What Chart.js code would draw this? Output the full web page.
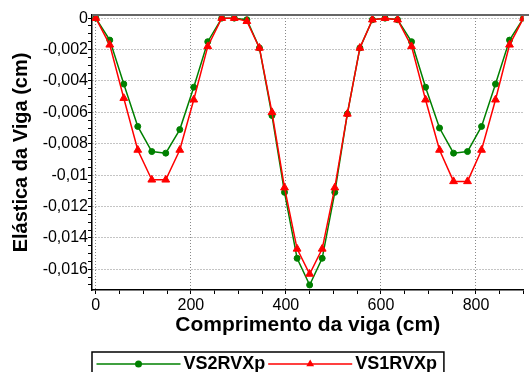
<!DOCTYPE html>
<html>
<head>
<meta charset="utf-8">
<script src="https://cdn.jsdelivr.net/npm/chart.js@4/dist/chart.umd.min.js"></script>
<style>
  body { margin: 0; background: #fff; }
  #wrap { width: 529px; height: 372px; }
</style>
</head>
<body>
<div id="wrap"><canvas id="chart" width="529" height="372"></canvas></div>
<script>
// posição dos nós ao longo da viga (cm)
const posicoes = [0, 29.4, 58.9, 88.3, 117.8, 147.2, 176.7, 206.1, 235.6, 265,
  291.4, 317.9, 344.3, 370.7, 397.1, 423.6, 450, 476.4, 502.9, 529.3, 555.7,
  582.1, 608.6, 635, 664.4, 693.9, 723.3, 752.8, 782.2, 811.7, 841.1, 870.6, 900];

// elástica (cm)
const vs2rvxp = [0, -0.0014, -0.0042, -0.0069, -0.0085, -0.0086, -0.0071, -0.0044, -0.0015, 0,
  0, -0.0001, -0.0019, -0.0062, -0.0111, -0.0153, -0.0170, -0.0153, -0.0111, -0.0061,
  -0.0019, -0.0001, 0, -0.0001, -0.0015, -0.0044, -0.0070, -0.0086, -0.0085, -0.0069,
  -0.0042, -0.0014, 0];
const vs1rvxp = [0, -0.0017, -0.0051, -0.0084, -0.0103, -0.0103, -0.0084, -0.0052, -0.0018, 0,
  0, -0.0002, -0.0019, -0.0060, -0.0108, -0.0147, -0.0163, -0.0147, -0.0108, -0.0061,
  -0.0019, -0.0001, 0, -0.0001, -0.0018, -0.0052, -0.0084, -0.0104, -0.0104, -0.0084,
  -0.0052, -0.0017, 0];

const nomesSeries = ['VS2RVXp', 'VS1RVXp'];
const tituloX = 'Comprimento da viga (cm)';
const tituloY = 'Elástica da Viga (cm)';

const VERDE = '#008000';
const VERMELHO = '#ff0000';

Chart.defaults.font.family = "'Liberation Sans', Arial, sans-serif";
Chart.defaults.color = '#000';

function pontos(ys) {
  return ys.map((y, i) => ({ x: posicoes[i], y: y }));
}

// moldura superior + legenda desenhada à mão (linha com marcador no meio)
const molduraLegenda = {
  id: 'molduraLegenda',
  afterDraw(chart) {
    const { ctx, chartArea } = chart;
    ctx.save();
    ctx.strokeStyle = '#666';
    ctx.lineWidth = 2;
    ctx.beginPath();
    ctx.moveTo(chartArea.left, chartArea.top);
    ctx.lineTo(chart.width, chartArea.top);
    ctx.stroke();

    ctx.font = "bold 18px 'Liberation Sans', Arial, sans-serif";
    ctx.textBaseline = 'middle';
    const topo = chart.height - 20;
    const yLinha = topo + 12;
    let x = chartArea.left + 4.5;
    const inicio = chartArea.left;
    chart.data.datasets.forEach(ds => {
      const cor = ds.borderColor;
      ctx.strokeStyle = cor;
      ctx.lineWidth = 1.5;
      ctx.beginPath();
      ctx.moveTo(x, yLinha);
      ctx.lineTo(x + 84, yLinha);
      ctx.stroke();
      const cx = x + 42;
      ctx.fillStyle = cor;
      ctx.beginPath();
      if (ds.pointStyle === 'triangle') {
        const r = 4.5;
        ctx.moveTo(cx, yLinha - r);
        ctx.lineTo(cx + r * 0.866, yLinha + r * 0.5);
        ctx.lineTo(cx - r * 0.866, yLinha + r * 0.5);
        ctx.closePath();
      } else {
        ctx.arc(cx, yLinha, 3.5, 0, Math.PI * 2);
      }
      ctx.fill();
      x += 87;
      ctx.fillStyle = '#000';
      ctx.textAlign = 'left';
      ctx.fillText(ds.label, x, yLinha);
      x += ctx.measureText(ds.label).width + 3;
    });
    ctx.strokeStyle = '#000';
    ctx.lineWidth = 1.5;
    ctx.strokeRect(inicio, topo, x + 4 - inicio, 40);
    ctx.restore();
  }
};

const ehMaiorY = v => Math.round(v / 0.0005) % 4 === 0;

new Chart(document.getElementById('chart'), {
  type: 'scatter',
  data: {
    datasets: [
      {
        label: nomesSeries[0],
        data: pontos(vs2rvxp),
        showLine: true,
        borderColor: VERDE,
        backgroundColor: VERDE,
        borderWidth: 1.5,
        pointStyle: 'circle',
        pointRadius: 3,
        pointBorderWidth: 1,
        order: 1
      },
      {
        label: nomesSeries[1],
        data: pontos(vs1rvxp),
        showLine: true,
        borderColor: VERMELHO,
        backgroundColor: VERMELHO,
        borderWidth: 1.5,
        pointStyle: 'triangle',
        pointRadius: 4.5,
        pointBorderWidth: 1,
        order: 0
      }
    ]
  },
  options: {
    responsive: false,
    animation: false,
    layout: { padding: { left: 0, right: 2, top: 15, bottom: 30 } },
    plugins: { legend: { display: false }, tooltip: { enabled: false } },
    scales: {
      x: {
        type: 'linear',
        min: -8,
        max: 900,
        afterFit: s => { s.height = 52; },
        border: { color: '#000', width: 1.5, dash: [1, 2] },
        grid: {
          color: c => (c.tick && c.tick.value % 200 === 0) ? '#888' : 'rgba(0,0,0,0)',
          tickColor: '#000',
          tickLength: 4
        },
        ticks: {
          stepSize: 50,
          includeBounds: false,
          autoSkip: false,
          maxRotation: 0,
          padding: 2,
          font: { size: 16 },
          callback: v => (v % 200 === 0) ? String(v) : ''
        },
        title: {
          display: true,
          text: tituloX,
          font: { size: 21, weight: 'bold' },
          padding: { top: 0, bottom: 4 }
        }
      },
      y: {
        min: -0.01732,
        max: 0.0002,
        afterFit: s => { s.width = 92; },
        border: { color: '#000', width: 1.5, dash: [1, 2] },
        grid: {
          color: c => (c.tick && ehMaiorY(c.tick.value)) ? '#888' : 'rgba(0,0,0,0)',
          tickColor: '#000',
          tickLength: 4
        },
        ticks: {
          stepSize: 0.0005,
          includeBounds: false,
          autoSkip: false,
          padding: 0,
          font: { size: 16 },
          callback: v => ehMaiorY(v) ? String(Number(v.toFixed(4))).replace('.', ',') : ''
        },
        title: {
          display: true,
          text: tituloY,
          font: { size: 20, weight: 'bold' },
          padding: { top: 9, bottom: 0 }
        }
      }
    }
  },
  plugins: [molduraLegenda]
});
</script>
</body>
</html>
